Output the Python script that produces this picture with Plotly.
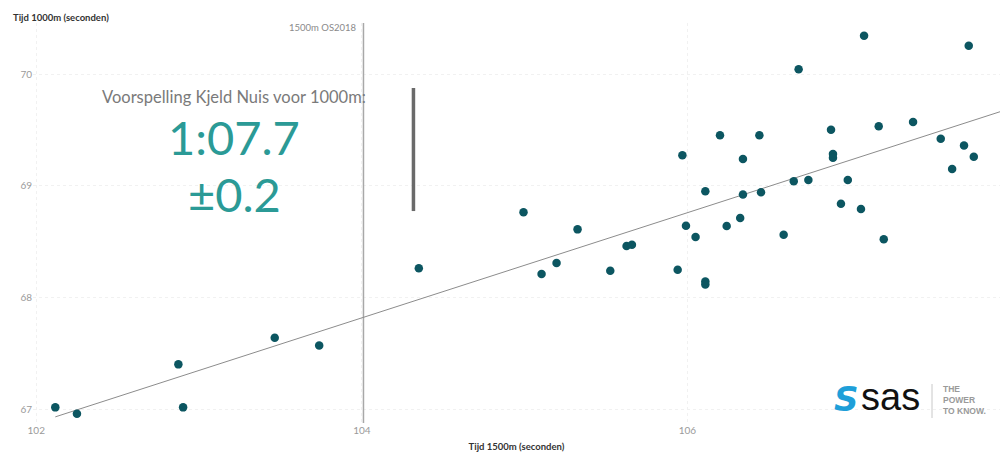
import plotly.graph_objects as go

# ---- data (seconds) ----
tijd_1500m = [102.117, 102.25, 102.873, 102.902, 103.465, 103.738, 104.35, 104.993,
              105.104, 105.196, 105.325, 105.526, 105.626, 105.659, 105.94, 105.969,
              105.991, 106.05, 106.11, 106.11, 106.11, 106.20, 106.241, 106.324,
              106.341, 106.341, 106.442, 106.452, 106.591, 106.653, 106.683, 106.743,
              106.882, 106.894, 106.894, 106.943, 106.985, 107.066, 107.085, 107.175,
              107.206, 107.386, 107.556, 107.626, 107.699, 107.728, 107.759]
tijd_1000m = [67.015, 66.958, 67.40, 67.015, 67.639, 67.57, 68.26, 68.762,
              68.209, 68.308, 68.609, 68.239, 68.46, 68.471, 68.248, 69.272,
              68.642, 68.54, 68.142, 68.115, 68.95, 69.451, 68.639, 68.71,
              68.921, 69.239, 69.451, 68.941, 68.561, 69.039, 70.042, 69.051,
              69.501, 69.284, 69.25, 68.839, 69.051, 68.791, 70.343, 69.532,
              68.52, 69.57, 69.421, 69.149, 69.361, 70.253, 69.259]

trend_x = [102.117, 108.0]
trend_y = [66.93, 69.70]

os2018_x = 104.01
os2018_y = [66.875, 70.457]

bar_x = [104.317, 104.317]
bar_y = [68.773, 69.875]

x_ticks = [102, 104, 106]
y_ticks = [67, 68, 69, 70]

prediction_label = "Voorspelling Kjeld Nuis voor 1000m:"
prediction_value = "1:07.7"
prediction_err = "±0.2"

FONT = "Lato"
TEAL = "#2b9a96"
DOT = "#0c5661"

fig = go.Figure()

fig.add_trace(go.Scatter(x=[os2018_x, os2018_x], y=os2018_y, mode="lines",
                         line=dict(color="#a8a8a8", width=1.5), hoverinfo="skip",
                         showlegend=False))
fig.add_trace(go.Scatter(x=trend_x, y=trend_y, mode="lines",
                         line=dict(color="#8c8c8c", width=1), hoverinfo="skip",
                         showlegend=False))
fig.add_trace(go.Scatter(x=bar_x, y=bar_y, mode="lines",
                         line=dict(color="#6a6a6a", width=3.5), hoverinfo="skip",
                         showlegend=False))
fig.add_trace(go.Scatter(x=tijd_1500m, y=tijd_1000m, mode="markers",
                         marker=dict(color=DOT, size=8.5, line=dict(width=0)),
                         showlegend=False))

# body margin is removed in the page, so the figure starts at the window origin
W, H = 1000, 463
L, R, T, B = 33, 0, 23, 40


def px(x):
    return (x - L) / (W - L - R)


def py(y):
    return (H - B - y) / (H - T - B)


annotations = [
    dict(text="Tijd 1000m (seconden)", xref="paper", yref="paper",
         x=px(11), y=py(17), xanchor="left", yanchor="middle", showarrow=False,
         font=dict(family=FONT, size=9.5, color="#333333", weight="bold")),
    dict(text="1500m OS2018", xref="paper", yref="paper",
         x=px(359), y=py(28), xanchor="right", yanchor="middle", showarrow=False,
         font=dict(family=FONT, size=9.5, color="#8a8a8a")),
    dict(text=prediction_label, xref="paper", yref="paper",
         x=px(234), y=py(97), xanchor="center", yanchor="middle", showarrow=False,
         font=dict(family=FONT, size=16.5, color="#7a7a7a")),
    dict(text=prediction_value, xref="paper", yref="paper",
         x=px(234), y=py(137), xanchor="center", yanchor="middle", showarrow=False,
         font=dict(family=FONT, size=47, color=TEAL)),
    dict(text=prediction_err, xref="paper", yref="paper",
         x=px(234), y=py(194), xanchor="center", yanchor="middle", showarrow=False,
         font=dict(family=FONT, size=47, color=TEAL)),
    # SAS logo approximation
    dict(text="<b><i>S</i></b>", xref="paper", yref="paper",
         x=px(846), y=py(399), xanchor="center", yanchor="middle", showarrow=False,
         font=dict(family="DejaVu Sans", size=34, color="#1e9fd9")),
    dict(text="sas", xref="paper", yref="paper",
         x=px(859), y=py(397), xanchor="left", yanchor="middle", showarrow=False,
         font=dict(family="Liberation Sans", size=38, color="#111111")),
    dict(text="<b>THE<br>POWER<br>TO KNOW.</b>", xref="paper", yref="paper",
         x=px(941), y=py(400), xanchor="left", yanchor="middle", showarrow=False,
         align="left",
         font=dict(family="Liberation Sans", size=8.5, color="#9a9a9a")),
]

shapes = [
    dict(type="line", xref="paper", yref="paper", x0=px(932), x1=px(932),
         y0=py(384), y1=py(418), line=dict(color="#c8c8c8", width=1)),
]

fig.update_layout(
    width=W, height=H,
    margin=dict(l=L, r=R, t=T, b=B, autoexpand=False),
    paper_bgcolor="white", plot_bgcolor="white",
    font=dict(family=FONT, color="#999999"),
    annotations=annotations,
    shapes=shapes,
    xaxis=dict(range=[101.98, 107.92], tickvals=x_ticks, ticktext=[str(v) for v in x_ticks],
               showgrid=True, gridcolor="#f1f1f1", griddash="dot", gridwidth=1,
               zeroline=False, showline=False, ticks="", automargin=False,
               tickfont=dict(family=FONT, size=10, color="#9a9a9a"),
               title=dict(text="<b>Tijd 1500m (seconden)</b>", standoff=8,
                          font=dict(family=FONT, size=9.5, color="#333333"))),
    yaxis=dict(range=[66.875, 70.457], tickvals=y_ticks, ticktext=[str(v) for v in y_ticks],
               showgrid=True, gridcolor="#f1f1f1", griddash="dot", gridwidth=1,
               zeroline=False, showline=False, ticks="", automargin=False,
               tickfont=dict(family=FONT, size=10, color="#9a9a9a")),
)

fig.write_html("out.html", default_width=f"{W}px", default_height=f"{H}px",
               config={"displayModeBar": False},
               post_script="document.body.style.margin='0px';"
                           "document.documentElement.style.overflow='hidden';"
                           "document.body.style.overflow='hidden';")
